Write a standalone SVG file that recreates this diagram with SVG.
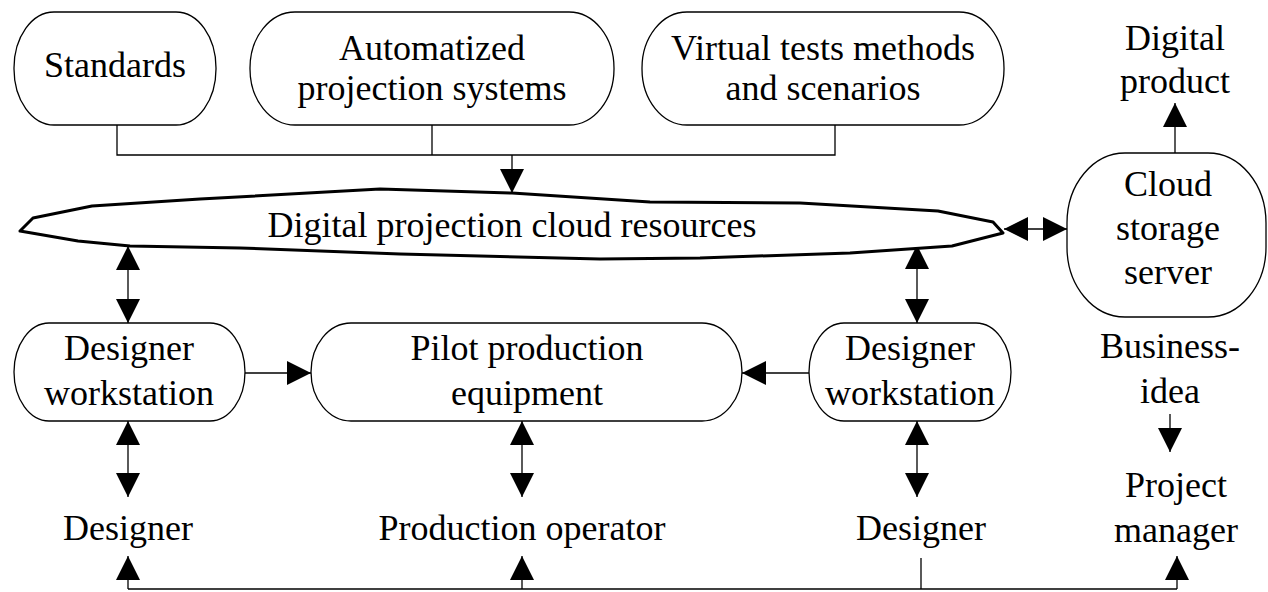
<svg xmlns="http://www.w3.org/2000/svg" width="1268" height="592" viewBox="0 0 1268 592">
  <defs>
    <marker id="head" viewBox="0 0 24 24" refX="24" refY="12" markerWidth="24" markerHeight="24" markerUnits="userSpaceOnUse" orient="auto-start-reverse">
      <path d="M0,0 L24,12 L0,24 Z" fill="#000"/>
    </marker>
    <style>
      .box { fill: #fff; stroke: #000; stroke-width: 1.3; }
      .cloud { fill: #fff; stroke: #000; stroke-width: 3; stroke-linejoin: round; }
      .lbl { font-family: "Liberation Serif", "Times New Roman", serif; font-size: 36px; fill: #000; text-anchor: middle; }
      .wire { fill: none; stroke: #000; stroke-width: 1.3; }
      .arr { fill: none; stroke: #000; stroke-width: 1.3; marker-end: url(#head); }
      .dbl { fill: none; stroke: #000; stroke-width: 1.3; marker-start: url(#head); marker-end: url(#head); }
    </style>
  </defs>
  <rect width="1268" height="592" fill="#fff"/>

  <!-- connectors -->
  <g id="connectors">
    <!-- inputs merged into the cloud -->
    <polyline class="wire" points="117,125 117,155 835,155 835,125"/>
    <line class="wire" x1="432" y1="125" x2="432" y2="155"/>
    <line class="arr" x1="512" y1="155" x2="512" y2="193"/>
    <!-- cloud <-> storage -->
    <line class="dbl" x1="1004" y1="229" x2="1067" y2="229"/>
    <!-- storage -> digital product -->
    <line class="arr" x1="1175" y1="153" x2="1175" y2="103"/>
    <!-- cloud <-> workstations -->
    <line class="dbl" x1="128" y1="246" x2="128" y2="323"/>
    <line class="dbl" x1="917" y1="245" x2="917" y2="323"/>
    <!-- workstations -> pilot equipment -->
    <line class="arr" x1="245" y1="373" x2="311" y2="373"/>
    <line class="arr" x1="809" y1="373" x2="742" y2="373"/>
    <!-- nodes <-> people -->
    <line class="dbl" x1="128" y1="421" x2="128" y2="497"/>
    <line class="dbl" x1="522" y1="421" x2="522" y2="497"/>
    <line class="dbl" x1="917" y1="421" x2="917" y2="497"/>
    <!-- business idea -> project manager -->
    <line class="arr" x1="1170" y1="414" x2="1170" y2="452"/>
    <!-- bottom feedback bus -->
    <polyline class="wire" points="128,589 1177,589"/>
    <line class="wire" x1="921" y1="558" x2="921" y2="589"/>
    <line class="arr" x1="128" y1="589" x2="128" y2="556"/>
    <line class="arr" x1="522" y1="589" x2="522" y2="556"/>
    <line class="arr" x1="1177" y1="589" x2="1177" y2="556"/>
  </g>

  <g id="standards">
    <rect class="box" x="14" y="12" width="202" height="113" rx="40" ry="56"/>
    <text class="lbl" x="115" y="77">Standards</text>
  </g>
  <g id="automatized">
    <rect class="box" x="250" y="12" width="364" height="113" rx="45" ry="56"/>
    <text class="lbl" x="432" y="60">Automatized</text>
    <text class="lbl" x="432" y="100">projection systems</text>
  </g>
  <g id="virtual-tests">
    <rect class="box" x="642" y="12" width="362" height="113" rx="45" ry="56"/>
    <text class="lbl" x="823" y="60">Virtual tests methods</text>
    <text class="lbl" x="823" y="100">and scenarios</text>
  </g>
  <g id="digital-product">
    <text class="lbl" x="1175" y="50">Digital</text>
    <text class="lbl" x="1175" y="93">product</text>
  </g>
  <g id="cloud-resources">
    <path class="cloud" d="M20,231 L33,218 L92,206 L200,199 L380,189 L512,193 L650,202 L800,203 L938,211 L993,222 L1003,233 L952,246 L850,253 L700,258 L600,259 L400,254 L240,248 L130,246 L78,241 Z"/>
    <text class="lbl" x="512" y="237">Digital projection cloud resources</text>
  </g>
  <g id="cloud-storage">
    <rect class="box" x="1067" y="153" width="199" height="164" rx="58" ry="70"/>
    <text class="lbl" x="1168" y="196">Cloud</text>
    <text class="lbl" x="1168" y="240">storage</text>
    <text class="lbl" x="1168" y="284">server</text>
  </g>
  <g id="workstation-left">
    <rect class="box" x="14" y="323" width="231" height="98" rx="35" ry="49"/>
    <text class="lbl" x="129" y="360">Designer</text>
    <text class="lbl" x="129" y="405">workstation</text>
  </g>
  <g id="pilot-equipment">
    <rect class="box" x="311" y="323" width="431" height="98" rx="40" ry="49"/>
    <text class="lbl" x="527" y="360">Pilot production</text>
    <text class="lbl" x="527" y="405">equipment</text>
  </g>
  <g id="workstation-right">
    <rect class="box" x="809" y="323" width="202" height="98" rx="35" ry="49"/>
    <text class="lbl" x="910" y="360">Designer</text>
    <text class="lbl" x="910" y="405">workstation</text>
  </g>
  <g id="business-idea">
    <text class="lbl" x="1170" y="358">Business-</text>
    <text class="lbl" x="1170" y="403">idea</text>
  </g>
  <g id="designer-left">
    <text class="lbl" x="128" y="540">Designer</text>
  </g>
  <g id="production-operator">
    <text class="lbl" x="522" y="540">Production operator</text>
  </g>
  <g id="designer-right">
    <text class="lbl" x="921" y="540">Designer</text>
  </g>
  <g id="project-manager">
    <text class="lbl" x="1176" y="497">Project</text>
    <text class="lbl" x="1176" y="542">manager</text>
  </g>
</svg>
